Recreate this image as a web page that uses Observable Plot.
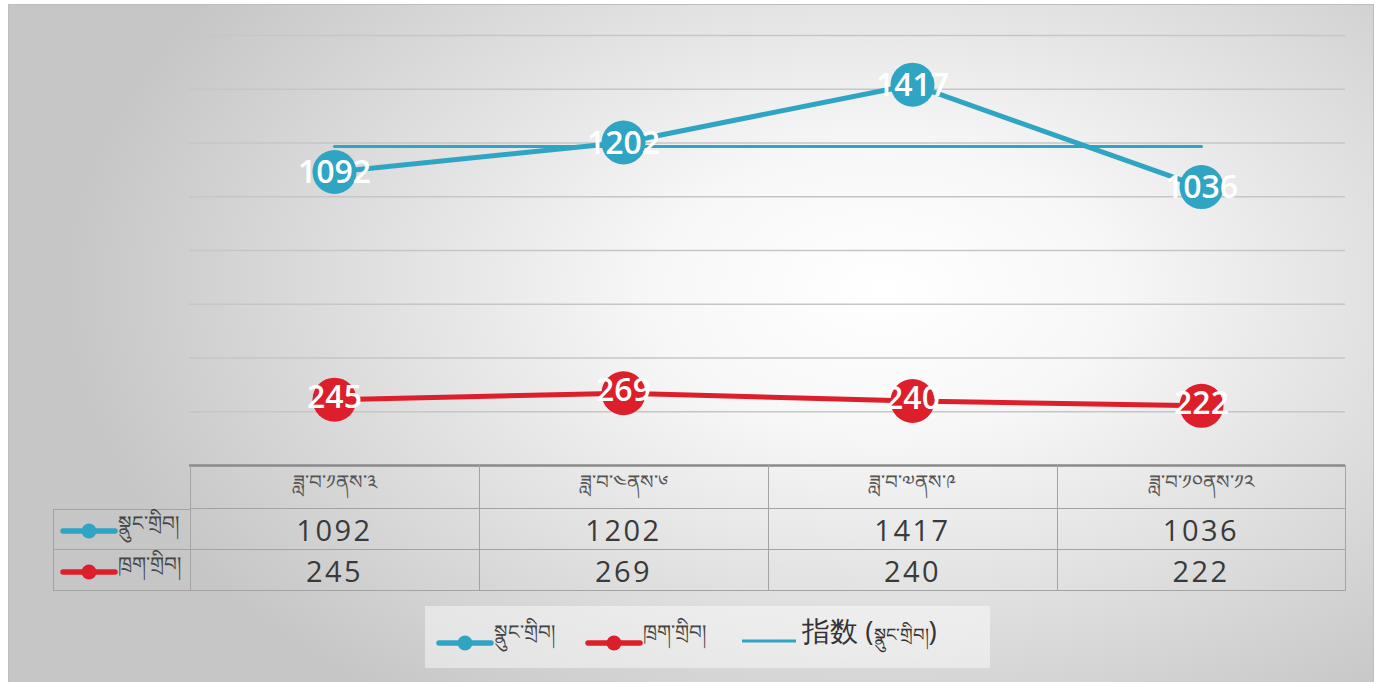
<!DOCTYPE html>
<html>
<head>
<meta charset="utf-8">
<script src="https://cdn.jsdelivr.net/npm/d3@7"></script>
<script src="https://cdn.jsdelivr.net/npm/@observablehq/plot@0.6"></script>
<style>
  html, body { margin: 0; padding: 0; background: #fff; }
  #wrap { position: relative; width: 1381px; height: 682px; overflow: hidden; font-family: "Open Sans", "Noto Sans", sans-serif; }
  #bg { position: absolute; left: 8px; top: 4px; width: 1364px; height: 680px; border: 1.5px solid #bdbdbd;
        background: radial-gradient(ellipse 60% 75% at 64% 42%, #ffffff 0%, #f7f7f7 28%, #e0e0e0 62%, #c6c6c6 100%); }
  #chart { position: absolute; left: 0; top: 0; }
  .cell { position: absolute; box-sizing: border-box; display: flex; align-items: center; justify-content: center; color: #3a3a3a; }
  .hdr { font-size: 20px; color: #555; }
  .val { font-size: 29px; letter-spacing: 2.5px; }
  .legend { position: absolute; display: flex; align-items: center; color: #444; }
</style>
</head>
<body>
<div id="wrap"><div id="bg"></div><div id="chart"></div><div id="table"></div><div id="legend"></div></div>
<script>
const categories = ["ཟླ་བ་༡ནས་༣", "ཟླ་བ་༤ནས་༦", "ཟླ་བ་༧ནས་༩", "ཟླ་བ་༡༠ནས་༡༢"];
const seriesNames = ["སྣུང་གྲིབ།", "ཁྲག་གྲིབ།"];
const seriesA = [1092, 1202, 1417, 1036];
const seriesB = [245, 269, 240, 222];
const indexLabel = "指数";
const yTicks = [0, 200, 400, 600, 800, 1000, 1200, 1400, 1600];

const blue = "#2fa5c3", red = "#dc1f2a";
const rowsA = categories.map((c, i) => ({c, v: seriesA[i]}));
const rowsB = categories.map((c, i) => ({c, v: seriesB[i]}));
const avg = d3.mean(seriesA);
const rowsAvg = categories.map(c => ({c, v: avg}));

const chart = Plot.plot({
  width: 1381, height: 470,
  marginLeft: 189, marginRight: 36, marginTop: 35, marginBottom: 5,
  x: {type: "point", domain: categories, padding: 0.5, axis: null},
  y: {domain: [0, 1600], axis: null},
  style: {background: "transparent", fontFamily: "Open Sans, Noto Sans, sans-serif", overflow: "visible"},
  marks: [
    Plot.ruleY(yTicks.filter(t => t > 0), {stroke: "#c6c6c6", strokeWidth: 1.3}),
    Plot.ruleY([0], {stroke: "#8a8a8a", strokeWidth: 2.5}),
    Plot.line(rowsAvg, {x: "c", y: "v", stroke: blue, strokeWidth: 3}),
    Plot.line(rowsA, {x: "c", y: "v", stroke: blue, strokeWidth: 5}),
    Plot.line(rowsB, {x: "c", y: "v", stroke: red, strokeWidth: 5}),
    Plot.dot(rowsA, {x: "c", y: "v", r: 22, fill: blue}),
    Plot.dot(rowsB, {x: "c", y: "v", r: 22, fill: red}),
    Plot.text(rowsA, {x: "c", y: "v", text: d => String(d.v), fill: "white", fontSize: 32, fontWeight: 600, dy: 1}),
    Plot.text(rowsB, {x: "c", y: "v", text: d => String(d.v), fill: "white", fontSize: 32, fontWeight: 600, dy: -2})
  ]
});
document.getElementById("chart").appendChild(chart);

// table aligned with the chart's x scale
const xs = chart.scale("x");
const ys = chart.scale("y");
const step = xs.apply(categories[1]) - xs.apply(categories[0]);
const top0 = ys.apply(0);
const hdrH = 44, rowH = 41;
const table = document.getElementById("table");
const bc = "1.5px solid #a3a3a3";
function cell(cls, left, top, w, h, html, extra) {
  const d = document.createElement("div");
  d.className = "cell " + cls;
  Object.assign(d.style, {left: left + "px", top: top + "px", width: w + "px", height: h + "px"}, extra || {});
  d.innerHTML = html;
  table.appendChild(d);
  return d;
}
categories.forEach((c, i) => {
  const l = xs.apply(c) - step / 2;
  cell("hdr", l, top0, step, hdrH, c, {borderLeft: bc, borderRight: i === 3 ? bc : "none", borderBottom: bc, paddingTop: "2px"});
  cell("val", l, top0 + hdrH, step, rowH, String(seriesA[i]), {borderLeft: bc, borderRight: i === 3 ? bc : "none", borderBottom: bc});
  cell("val", l, top0 + hdrH + rowH, step, rowH, String(seriesB[i]), {borderLeft: bc, borderRight: i === 3 ? bc : "none", borderBottom: bc});
});
const leftX = 53, firstL = xs.apply(categories[0]) - step / 2;
function marker(color, w) {
  return `<svg width="${w}" height="16" style="flex:none"><line x1="3" x2="${w-3}" y1="8" y2="8" stroke="${color}" stroke-width="5.5" stroke-linecap="round"/><circle cx="${w/2}" cy="8" r="7.5" fill="${color}"/></svg>`;
}
[[seriesNames[0], blue], [seriesNames[1], red]].forEach(([n, col], k) => {
  cell("", leftX, top0 + hdrH + k * rowH, firstL - leftX, rowH,
    `<div style="display:flex;align-items:flex-start;width:100%;padding-left:6px;box-sizing:border-box">
       <div style="margin-top:20px">${marker(col, 58)}</div>
       <span style="font-size:20px;color:#444;margin-top:-1px">${n}</span></div>`,
    {borderLeft: bc, borderBottom: bc, borderTop: k === 0 ? bc : "none", justifyContent: "flex-start"});
});

// legend
const lg = document.getElementById("legend");
lg.innerHTML = `
<div style="position:absolute;left:425px;top:606px;width:565px;height:62px;background:rgba(255,255,255,0.45)"></div>
<div class="legend" style="left:436px;top:618px;height:40px">
  <div style="margin-top:14px">${marker(blue, 58)}</div>
  <span style="font-size:20px;align-self:flex-start;margin-top:-8px">${seriesNames[0]}</span>
  <div style="width:30px"></div>
  <div style="margin-top:14px">${marker(red, 58)}</div>
  <span style="font-size:20px;align-self:flex-start;margin-top:-8px">${seriesNames[1]}</span>
  <div style="width:34px"></div>
  <svg width="58" height="16" style="flex:none;margin-top:6px"><line x1="2" x2="56" y1="8" y2="8" stroke="${blue}" stroke-width="3"/></svg>
  <span style="font-size:28px;margin-left:4px;color:#333">${indexLabel} (<span style="font-size:18px">${seriesNames[0]}</span>)</span>
</div>`;
</script>
</body>
</html>
